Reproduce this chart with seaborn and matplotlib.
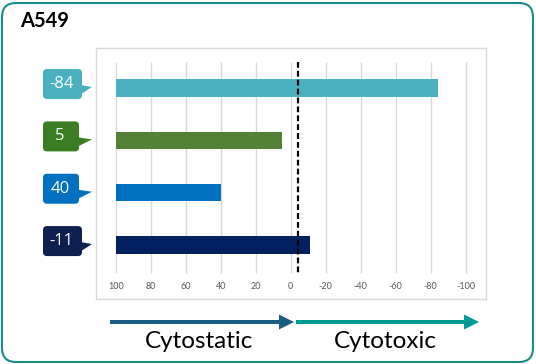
import matplotlib
matplotlib.use("Agg")
import matplotlib.pyplot as plt
import matplotlib.transforms as mtransforms
from matplotlib.patches import FancyBboxPatch, Polygon, FancyArrow
import pandas as pd
import seaborn as sns

# data
title = "A549"
labels = ["-84", "5", "40", "-11"]
values = [-84, 5, 40, -11]
bar_colors = ["#4bb1bf", "#548235", "#0070c0", "#002060"]
box_colors = ["#4aafbf", "#3b7d23", "#0070c0", "#0e2050"]
tick_values = [100, 80, 60, 40, 20, 0, -20, -40, -60, -80, -100]
cutoff = -4
arrow_labels = ["Cytostatic", "Cytotoxic"]
arrow_colors = ["#1b5c82", "#009a96"]

W, H = 536, 364

sns.set_theme(style="white")
plt.rcParams["font.family"] = ["Lato", "DejaVu Sans"]

fig = plt.figure(figsize=(W / 100, H / 100), dpi=100)
px = mtransforms.Affine2D().scale(1 / W, 1 / H) + fig.transFigure


def fy(y):
    # pixel row from top -> bottom-origin pixel
    return H - y


# plot frame (pixels): left 96, right 486, top 48, bottom 299
ax = fig.add_axes([96 / W, fy(299) / H, (486 - 96) / W, (299 - 48) / H])

# bars start at 100 on the reversed axis, so plot the distance from 100
df = pd.DataFrame({"label": labels, "dist": [100 - v for v in values]})
sns.barplot(data=df, x="dist", y="label", hue="label", palette=bar_colors,
            order=labels, hue_order=labels, orient="h", width=0.33,
            legend=False, ax=ax, saturation=1, edgecolor="none")

ax.set_xlim(-11.26, 211.6)
ax.set_ylim(4.03, -0.765)
ax.set_xticks([])
ax.set_yticks([])
ax.set_xlabel("")
ax.set_ylabel("")
for s in ax.spines.values():
    s.set_color("#d9d9d9")
    s.set_linewidth(1)

grid_pos = [100 - t for t in tick_values]
ax.vlines(grid_pos, -0.5, 3.54, color="#d9d9d9", lw=1, zorder=0)
for g, t in zip(grid_pos, tick_values):
    ax.text(g, 3.8, str(t), ha="center", va="center", fontsize=6.5,
            color="#595959")
ax.vlines(100 - cutoff, -0.5, 3.54, color="black", lw=1.6,
          linestyles=(0, (2.6, 1.4)), zorder=5)

# callout labels
for i, (lab, c) in enumerate(zip(labels, box_colors)):
    yc = ax.transData.transform((0, i))[1] / fig.bbox.height * H
    right = 82 if len(lab) > 2 else 79
    box = FancyBboxPatch((43, yc - 11), right - 43, 30,
                         boxstyle="round,pad=0,rounding_size=4",
                         fc=c, ec="none", transform=px)
    fig.add_artist(box)
    tail = Polygon([(right - 1, yc + 3), (92, yc + 1), (right - 1, yc - 6)],
                   closed=True, fc=c, ec="none", transform=px)
    fig.add_artist(tail)
    fig.text((43 + right) / 2 / W - 0.002, (yc + 4) / H, lab, ha="center",
             va="center", color="white", fontsize=12, fontweight="medium",
             family=["Open Sans", "DejaVu Sans"])

# arrows + labels
arrow_x = [(110, 294), (296, 479)]
for (x0, x1), c in zip(arrow_x, arrow_colors):
    fig.add_artist(FancyArrow(x0, fy(322), x1 - x0, 0, width=4,
                              head_width=15, head_length=15,
                              length_includes_head=True, fc=c, ec="none",
                              transform=px))
text_x = [199, 385]
for x, lab in zip(text_x, arrow_labels):
    fig.text(x / W, fy(341) / H, lab, ha="center", va="center",
             fontsize=17.5, color="black")

fig.text(20 / W, fy(21) / H, title, ha="left", va="center", fontsize=14.5,
         fontweight="bold", color="black")

# outer rounded border
fig.add_artist(FancyBboxPatch((2, 2), 531, 359,
                              boxstyle="round,pad=0,rounding_size=14",
                              fc="none", ec="#1a8c8c", lw=1.5, transform=px))

fig.savefig("out.png", dpi=100)
